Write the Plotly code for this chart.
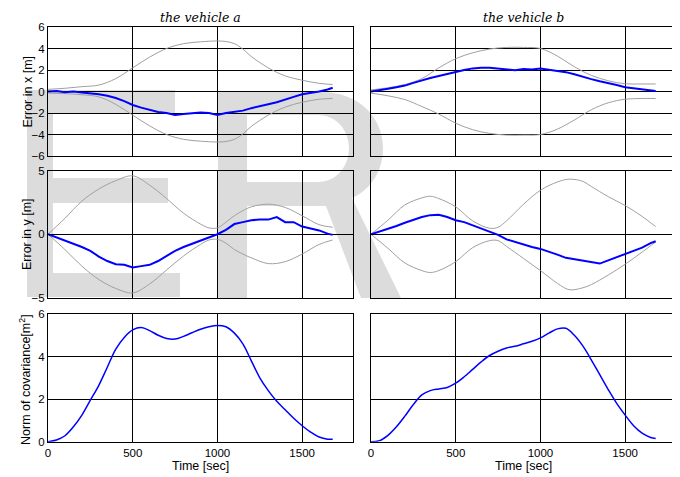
import plotly.graph_objects as go
from plotly.subplots import make_subplots

# the page body adds an 8 px margin; the figure fills the rest of the 680x477 window
OFF = 8
W, H = 680 - OFF, 477 - OFF

# ---------------- data ----------------
# vehicle a, error in x
t_ax_bound = [0, 100, 200, 300, 400, 500, 600, 700, 800, 900, 1000, 1050, 1100, 1150, 1200, 1300, 1400, 1500, 1600, 1680]
ax_upper = [0.2, 0.3, 0.45, 0.6, 1.2, 2.2, 3.2, 4.0, 4.45, 4.62, 4.7, 4.65, 4.45, 3.95, 3.25, 2.2, 1.45, 1.05, 0.76, 0.65]
ax_lower = [-0.15, -0.2, -0.3, -0.5, -1.2, -2.2, -3.2, -4.0, -4.45, -4.62, -4.7, -4.65, -4.45, -3.95, -3.25, -2.2, -1.45, -1.0, -0.72, -0.65]
t_blue = [0, 50, 100, 150, 200, 250, 300, 350, 400, 450, 500, 550, 600, 650, 700, 750, 800, 850,
          900, 950, 1000, 1050, 1100, 1150, 1200, 1250, 1300, 1350, 1400, 1450, 1500, 1550, 1600, 1650, 1680]
ax_err = [0.0, 0.05, -0.08, 0.0, -0.1, -0.15, -0.25, -0.4, -0.6, -0.9, -1.25, -1.5, -1.72, -1.9, -2.0,
          -2.18, -2.1, -2.05, -1.95, -2.0, -2.18, -2.0, -1.9, -1.78, -1.55, -1.4, -1.18, -1.0, -0.72,
          -0.5, -0.25, -0.15, 0.0, 0.18, 0.35]

# vehicle b, error in x
t_bx_bound = [0, 100, 200, 300, 400, 500, 600, 700, 800, 900, 1000, 1100, 1200, 1300, 1400, 1500, 1600, 1680]
bx_upper = [0.15, 0.35, 0.65, 1.2, 2.2, 3.05, 3.6, 3.95, 4.1, 4.1, 4.0, 3.3, 2.3, 1.5, 1.0, 0.72, 0.7, 0.7]
bx_lower = [-0.15, -0.4, -0.75, -1.4, -2.1, -2.95, -3.55, -3.9, -4.05, -4.05, -4.0, -3.5, -2.65, -1.7, -1.05, -0.72, -0.65, -0.65]
bx_err = [0.0, 0.1, 0.25, 0.4, 0.55, 0.8, 1.05, 1.25, 1.45, 1.65, 1.85, 2.0, 2.15, 2.22, 2.2, 2.15,
          2.05, 1.98, 2.1, 2.05, 2.15, 2.05, 1.95, 1.8, 1.6, 1.35, 1.15, 0.95, 0.8, 0.6, 0.4, 0.3,
          0.15, 0.08, 0.05]

# vehicle a, error in y
t_ay_bound = [0, 100, 200, 300, 400, 500, 600, 700, 800, 900, 950, 1000, 1050, 1100, 1150, 1200, 1300, 1400, 1500, 1600, 1680]
ay_upper = [0.0, 1.25, 2.6, 3.55, 4.2, 4.58, 3.85, 2.8, 1.65, 0.8, 0.5, 0.5, 0.95, 1.45, 1.85, 2.15, 2.36, 2.1, 1.45, 0.75, 0.55]
ay_lower = [0.0, -1.2, -2.5, -3.55, -4.25, -4.6, -3.9, -2.8, -1.7, -0.8, -0.45, -0.4, -0.7, -1.2, -1.55, -1.85, -2.3, -2.15, -1.55, -0.8, -0.45]
ay_err = [0.0, -0.25, -0.45, -0.75, -1.0, -1.3, -1.75, -2.1, -2.35, -2.4, -2.6, -2.5, -2.4, -2.1, -1.7,
          -1.3, -1.0, -0.75, -0.55, -0.3, 0.0, 0.35, 0.8, 0.95, 1.1, 1.15, 1.15, 1.35, 0.95, 0.95,
          0.6, 0.45, 0.3, 0.05, -0.05]

# vehicle b, error in y
t_by_bound = [0, 100, 200, 300, 350, 400, 500, 600, 700, 750, 800, 900, 1000, 1100, 1170, 1250, 1300, 1400, 1500, 1600, 1680]
by_upper = [0.0, 1.1, 2.3, 2.85, 2.98, 2.8, 2.15, 1.05, 0.47, 0.55, 1.05, 2.35, 3.45, 4.1, 4.32, 4.15, 3.75, 2.95, 2.25, 1.4, 0.6]
by_lower = [0.0, -1.1, -2.25, -2.85, -3.0, -2.85, -2.15, -1.05, -0.5, -0.5, -0.95, -1.9, -2.85, -3.85, -4.35, -4.2, -3.95, -3.2, -2.35, -1.4, -0.6]
by_err = [0.0, 0.2, 0.45, 0.65, 0.9, 1.15, 1.35, 1.5, 1.52, 1.35, 1.1, 0.95, 0.7, 0.45, 0.2, -0.05,
          -0.4, -0.6, -0.85, -1.0, -1.15, -1.35, -1.6, -1.85, -1.95, -2.05, -2.2, -2.3, -2.05, -1.8,
          -1.55, -1.3, -1.05, -0.7, -0.55]

# norm of covariance
t_norm = t_blue
norm_a = [0.0, 0.08, 0.28, 0.7, 1.25, 1.95, 2.65, 3.5, 4.35, 4.9, 5.25, 5.36, 5.22, 5.0, 4.85, 4.82,
          4.95, 5.12, 5.28, 5.4, 5.46, 5.4, 5.1, 4.6, 3.8, 3.0, 2.4, 1.9, 1.5, 1.1, 0.75, 0.45, 0.22,
          0.12, 0.12]
norm_b = [0.0, 0.05, 0.3, 0.7, 1.2, 1.75, 2.2, 2.4, 2.48, 2.55, 2.75, 3.05, 3.4, 3.75, 4.05, 4.25,
          4.4, 4.48, 4.6, 4.72, 4.88, 5.1, 5.3, 5.33, 5.0, 4.5, 3.85, 3.15, 2.45, 1.8, 1.25, 0.75,
          0.4, 0.2, 0.15]

x_ticks = [0, 500, 1000, 1500]
titles = ["the vehicle a", "the vehicle b"]
y_titles = ["Error in x [m]", "Error in y [m]", "Norm of covariance[m<sup>2</sup>]"]
x_title = "Time [sec]"

# ---------------- figure ----------------
GRAY = "#a0a0a0"
BLUE = "#0000ff"

fig = make_subplots(rows=3, cols=2)


def bounds(t, up, lo, r, c):
    for v in (up, lo):
        fig.add_trace(go.Scatter(x=t, y=v, mode="lines", line=dict(color=GRAY, width=1, shape="spline"),
                                 hoverinfo="skip"), row=r, col=c)


bounds(t_ax_bound, ax_upper, ax_lower, 1, 1)
fig.add_trace(go.Scatter(x=t_blue, y=ax_err, mode="lines", line=dict(color=BLUE, width=2)), row=1, col=1)
bounds(t_bx_bound, bx_upper, bx_lower, 1, 2)
fig.add_trace(go.Scatter(x=t_blue, y=bx_err, mode="lines", line=dict(color=BLUE, width=2)), row=1, col=2)
bounds(t_ay_bound, ay_upper, ay_lower, 2, 1)
fig.add_trace(go.Scatter(x=t_blue, y=ay_err, mode="lines", line=dict(color=BLUE, width=2)), row=2, col=1)
bounds(t_by_bound, by_upper, by_lower, 2, 2)
fig.add_trace(go.Scatter(x=t_blue, y=by_err, mode="lines", line=dict(color=BLUE, width=2)), row=2, col=2)
fig.add_trace(go.Scatter(x=t_norm, y=norm_a, mode="lines", line=dict(color=BLUE, width=1.5, shape="spline")), row=3, col=1)
fig.add_trace(go.Scatter(x=t_norm, y=norm_b, mode="lines", line=dict(color=BLUE, width=1.5, shape="spline")), row=3, col=2)


def px(x):
    return (x - OFF) / W


def py(y):
    return 1 - (y - OFF) / H


xdom = [[px(48), px(353)], [px(371), px(676)]]
ydom = [[py(156), py(27)], [py(298), py(170.5)], [py(441.7), py(314)]]
yranges = [[-6, 6], [-5, 5], [0, 6]]
ydticks = [2, 5, 2]

tickfont = dict(family="Liberation Sans, Arial, sans-serif", size=11.5, color="black")
axis_common = dict(showline=True, linecolor="black", linewidth=1, mirror="allticks",
                   ticks="inside", ticklen=3, tickcolor="black", showgrid=True,
                   gridcolor="black", gridwidth=1, zeroline=False, tickfont=tickfont,
                   automargin=False)

idx = 0
for r in range(3):
    for c in range(2):
        idx += 1
        sfx = "" if idx == 1 else str(idx)
        fig.layout["xaxis" + sfx].update(domain=xdom[c], range=[0, 1800], tickvals=x_ticks,
                                        showticklabels=(r == 2), **axis_common)
        fig.layout["yaxis" + sfx].update(domain=ydom[r], range=yranges[r], dtick=ydticks[r],
                                        tick0=0, showticklabels=(c == 0), **axis_common)

# watermark letters "ER" (decoration behind the plots)


def pt(x, y):
    return f"{px(x):.4f},{py(y):.4f}"


E_path = ("M" + pt(27, 90) + " L" + pt(175, 90) + " L" + pt(175, 113) + " L" + pt(53, 113) +
          " L" + pt(53, 178) + " L" + pt(168, 178) + " L" + pt(168, 203) + " L" + pt(53, 203) +
          " L" + pt(53, 273) + " L" + pt(180, 273) + " L" + pt(180, 297) + " L" + pt(27, 297) + " Z")
R_path = ("M" + pt(218, 92) + " L" + pt(322, 92) + " C" + pt(358, 92) + " " + pt(383, 117) + " " + pt(383, 148) +
          " C" + pt(383, 172) + " " + pt(370, 190) + " " + pt(352, 198) + " L" + pt(401, 298) +
          " L" + pt(361, 298) + " L" + pt(326, 206) + " L" + pt(247, 206) + " L" + pt(247, 298) +
          " L" + pt(218, 298) + " Z" +
          " M" + pt(247, 115) + " L" + pt(318, 115) + " C" + pt(336, 115) + " " + pt(349, 130) + " " + pt(349, 148) +
          " C" + pt(349, 167) + " " + pt(336, 182) + " " + pt(318, 182) + " L" + pt(247, 182) + " Z")
WM = "#dcdcdc"
fig.update_layout(shapes=[
    dict(type="path", xref="paper", yref="paper", path=E_path, fillcolor=WM, line=dict(width=0), layer="below"),
    dict(type="path", xref="paper", yref="paper", path=R_path, fillcolor=WM, line=dict(width=0),
         layer="below", fillrule="evenodd"),
])

ann = []
labfont = dict(family="Liberation Sans, Arial, sans-serif", size=12.5, color="black")
for c in range(2):
    ann.append(dict(text=titles[c], x=sum(xdom[c]) / 2, y=py(18), xref="paper", yref="paper",
                    showarrow=False, xanchor="center", yanchor="middle",
                    font=dict(family="DejaVu Serif, serif", size=12.5, color="black", style="italic")))
    ann.append(dict(text=x_title, x=sum(xdom[c]) / 2, y=py(466), xref="paper", yref="paper",
                    showarrow=False, xanchor="center", yanchor="middle", font=labfont))
ycent = [91.5, 234, 380]
yx = [27, 27, 25]
for r in range(3):
    ann.append(dict(text=y_titles[r], x=px(yx[r]), y=py(ycent[r]), xref="paper", yref="paper",
                    showarrow=False, textangle=-90, xanchor="center", yanchor="middle", font=labfont))

fig.update_layout(width=W, height=H, margin=dict(l=0, r=0, t=0, b=0, pad=0, autoexpand=False),
                  showlegend=False,
                  paper_bgcolor="white", plot_bgcolor="rgba(0,0,0,0)", annotations=ann,
                  font=dict(family="Liberation Sans, Arial, sans-serif", color="black"))

fig.write_html("out.html")
